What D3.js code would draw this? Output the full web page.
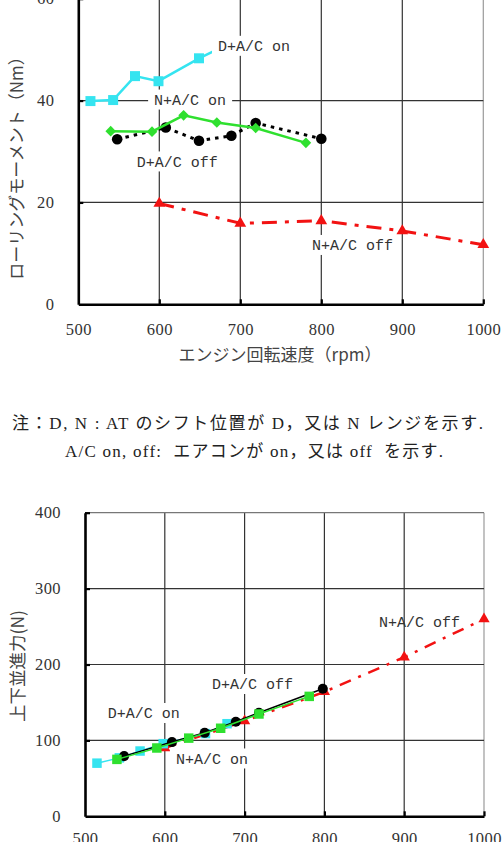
<!DOCTYPE html>
<html><head><meta charset="utf-8">
<script src="https://cdn.jsdelivr.net/npm/d3@7"></script>
<style>html,body{margin:0;padding:0;background:#fff;} svg{display:block;}</style>
</head><body>
<script>
// ---------- DATA ----------
const rpmTicks = [500, 600, 700, 800, 900, 1000];
const momentTicks = [0, 20, 40, 60];
const forceTicks = [0, 100, 200, 300, 400];
const seriesNames = ["D+A/C on", "N+A/C on", "D+A/C off", "N+A/C off"];

// Top chart: rolling moment (Nm) vs engine speed (rpm)
const momDOnRpm  = [515, 543, 570, 599, 649, 680];
const momDOnVal  = [39.9, 40.1, 44.8, 43.8, 48.3, 50.7];
const momNOnRpm  = [540, 591, 630, 671, 719, 781];
const momNOnVal  = [34.0, 33.9, 37.1, 35.7, 34.6, 31.7];
const momDOffRpm = [548, 608, 649, 689, 719, 800];
const momDOffVal = [32.4, 34.7, 32.1, 33.1, 35.6, 32.5];
const momNOffRpm = [600, 700, 800, 900, 1000];
const momNOffVal = [19.8, 15.9, 16.4, 14.4, 11.7];

// Bottom chart: vertical translational force (N) vs engine speed (rpm)
const frcDOnRpm  = [515, 543, 569, 598, 651, 678];
const frcDOnVal  = [70, 77, 86, 95.7, 109, 122];
const frcNOnRpm  = [540, 590, 630, 670, 718, 781];
const frcNOnVal  = [75, 90, 103, 116, 134.8, 158];
const frcDOffRpm = [549, 609, 650, 689, 718, 798];
const frcDOffVal = [79.3, 97.8, 110, 124.5, 136.5, 168];
const frcNOffRpm = [600, 700, 800, 900, 1000];
const frcNOffVal = [90, 125.4, 164, 209.6, 260];

const noteLines = [
  "注：D, N : AT のシフト位置が D，又は N レンジを示す.",
  "A/C on, off:  エアコンが on，又は off  を示す."
];

// ---------- DRAWING ----------
const W = 502, H = 842;
const svg = d3.select("body").append("svg").attr("width", W).attr("height", H)
  .style("background", "#fff");

const CYAN = "#35e4f0", GREEN = "#2fe02f", RED = "#f21212", BLACK = "#000";
const zip = (a, b) => a.map((v, i) => ({x: v, y: b[i]}));

function drawChart(cfg) {
  const g = svg.append("g");
  const x = d3.scaleLinear().domain([500, 1000]).range(cfg.xr);
  const y = d3.scaleLinear().domain([0, cfg.yTicks[cfg.yTicks.length - 1]]).range(cfg.yr);
  const yTop = cfg.yTicks[cfg.yTicks.length - 1];

  // grid
  g.selectAll("line.vg").data(rpmTicks.slice(1)).join("line").attr("class", "vg")
    .attr("x1", d => x(d)).attr("x2", d => x(d))
    .attr("y1", y(yTop)).attr("y2", y(0))
    .attr("stroke", d => d === 1000 ? "#9a9a9a" : "#333").attr("stroke-width", 1.2);
  g.selectAll("line.hg").data(cfg.yTicks.slice(1)).join("line").attr("class", "hg")
    .attr("x1", x(500)).attr("x2", x(1000))
    .attr("y1", d => y(d)).attr("y2", d => y(d))
    .attr("stroke", d => d === yTop ? "#777" : "#333").attr("stroke-width", 1.2);

  // series
  cfg.series.forEach(s => {
    const pts = zip(s.rpm, s.val);
    const line = d3.line().x(d => x(d.x)).y(d => y(d.y));
    g.append("path").attr("d", line(pts)).attr("fill", "none")
      .attr("stroke", s.color).attr("stroke-width", s.width)
      .attr("stroke-dasharray", s.dash || null);
    const sym = d3.symbol().type(s.symbol).size(s.size);
    g.selectAll(null).data(pts).join("path")
      .attr("d", sym)
      .attr("transform", d => `translate(${x(d.x)},${y(d.y)})` + (s.rotate ? " rotate(45)" : ""))
      .attr("fill", s.color);
  });

  // axes
  const xAxis = d3.axisBottom(x).tickValues(rpmTicks).tickSize(-5).tickSizeOuter(0)
    .tickPadding(cfg.xPad).tickFormat(d3.format("d"));
  const gx = g.append("g").attr("transform", `translate(0,${y(0)})`).call(xAxis);
  const yAxis = d3.axisLeft(y).tickValues(cfg.yTicks).tickSize(-5).tickSizeOuter(0)
    .tickPadding(24).tickFormat(d3.format("d"));
  const gy = g.append("g").attr("transform", `translate(${x(500)},0)`).call(yAxis);
  [gx, gy].forEach(a => {
    a.attr("font-family", "Liberation Serif, serif");
    a.select(".domain").attr("stroke", "#000").attr("stroke-width", 2.6);
    a.selectAll(".tick line").attr("stroke", "#000").attr("stroke-width", 2.2);
    a.selectAll(".tick text").attr("font-family", "Liberation Serif, serif")
      .attr("font-size", 16.5).attr("fill", "#333").style("letter-spacing", "0.4px");
  });
  gx.selectAll(".tick line").filter(d => d === 500).remove();
  gy.selectAll(".tick line").filter(d => d === 0).remove();

  // labels with white background
  cfg.labels.forEach(l => {
    const lg = g.append("g");
    const t = lg.append("text").text(l.text)
      .attr("x", x(l.rpm)).attr("y", y(l.val)).attr("dy", "0.36em")
      .attr("font-family", "Liberation Mono, monospace").attr("font-size", 15)
      .attr("fill", "#333").style("white-space", "pre");
    if (l.bg) {
      const bb = t.node().getBBox();
      lg.insert("rect", "text").attr("x", bb.x - 6).attr("y", y(l.val) - 10)
        .attr("width", bb.width + 12).attr("height", 20).attr("fill", "#fff");
    }
  });

  // axis titles
  g.append("text").text(cfg.yTitle)
    .attr("transform", `translate(${cfg.yTitlePos[0]},${cfg.yTitlePos[1]}) rotate(-90)`)
    .attr("text-anchor", "middle").attr("dominant-baseline", "central")
    .attr("font-family", "Noto Sans CJK JP, sans-serif").attr("font-size", cfg.yTitleSize)
    .attr("fill", "#444");
  if (cfg.xTitle) {
    g.append("text").text(cfg.xTitle)
      .attr("x", cfg.xTitlePos[0]).attr("y", cfg.xTitlePos[1])
      .attr("text-anchor", "middle").attr("dominant-baseline", "central")
      .attr("font-family", "Noto Sans CJK JP, sans-serif").attr("font-size", 17)
      .attr("fill", "#444");
  }
}

drawChart({
  xr: [78.3, 483.3], yr: [304.3, -1.3], yTicks: momentTicks, xPad: 19,
  yTitle: "ローリングモーメント（Nm）", yTitlePos: [15, 164], yTitleSize: 17,
  xTitle: "エンジン回転速度（rpm）", xTitlePos: [280, 353],
  series: [
    {rpm: momNOffRpm, val: momNOffVal, color: RED, width: 3, dash: "15,8,4,8", symbol: d3.symbolTriangle, size: 60},
    {rpm: momDOffRpm, val: momDOffVal, color: BLACK, width: 3, dash: "3.5,5", symbol: d3.symbolCircle, size: 88},
    {rpm: momNOnRpm, val: momNOnVal, color: GREEN, width: 2.5, symbol: d3.symbolSquare, size: 56, rotate: true},
    {rpm: momDOnRpm, val: momDOnVal, color: CYAN, width: 2.5, symbol: d3.symbolSquare, size: 100}
  ],
  labels: [
    {text: seriesNames[0], rpm: 672.5, val: 50.75, bg: true},
    {text: seriesNames[1], rpm: 593.6, val: 40.2, bg: true},
    {text: seriesNames[2], rpm: 572.1, val: 28.05, bg: true},
    {text: seriesNames[3], rpm: 788.5, val: 11.65, bg: true}
  ]
});

drawChart({
  xr: [85, 484], yr: [816.3, 512.7], yTicks: forceTicks, xPad: 16,
  yTitle: "上下並進力(N)", yTitlePos: [16.5, 666], yTitleSize: 17.5,
  series: [
    {rpm: frcNOffRpm, val: frcNOffVal, color: RED, width: 2.5, dash: "12,8,3,8", symbol: d3.symbolTriangle, size: 55},
    {rpm: frcDOnRpm, val: frcDOnVal, color: CYAN, width: 1.5, symbol: d3.symbolSquare, size: 90},
    {rpm: frcDOffRpm, val: frcDOffVal, color: BLACK, width: 1.5, symbol: d3.symbolCircle, size: 80},
    {rpm: frcNOnRpm, val: frcNOnVal, color: GREEN, width: 1.5, symbol: d3.symbolSquare, size: 90}
  ],
  labels: [
    {text: seriesNames[0], rpm: 528.4, val: 136.1, bg: true},
    {text: seriesNames[1], rpm: 614, val: 76.2, bg: true},
    {text: seriesNames[2], rpm: 659.1, val: 174.3, bg: true},
    {text: seriesNames[3], rpm: 868.4, val: 256, bg: false}
  ]
});

// note text
const notePos = [[12, 423, 471], [65, 451, 378]];
noteLines.forEach((s, i) => {
  svg.append("text").text(s)
    .attr("x", notePos[i][0]).attr("y", notePos[i][1]).attr("dominant-baseline", "central")
    .attr("textLength", notePos[i][2]).attr("lengthAdjust", "spacing")
    .attr("font-family", "Liberation Serif, Noto Sans CJK JP, serif").attr("font-size", 17)
    .attr("fill", "#222").style("white-space", "pre");
});
</script>
</body></html>
